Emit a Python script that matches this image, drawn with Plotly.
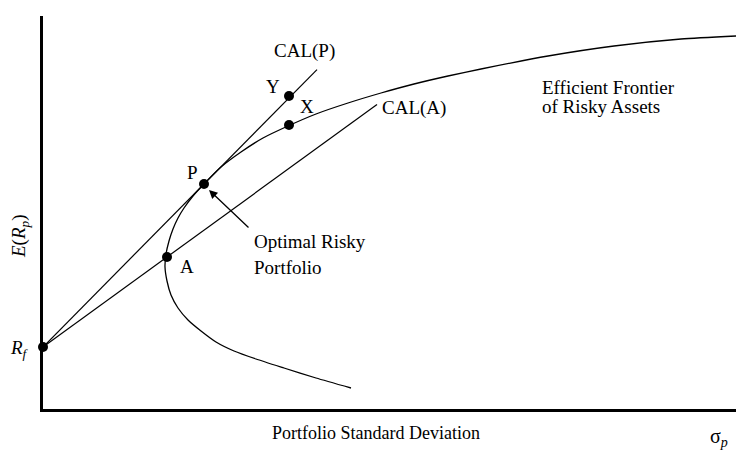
import plotly.graph_objects as go

# Efficient frontier (sigma, expected return)
frontier_sigma = [15.40, 13.65, 12.05, 10.65, 9.55, 8.65, 7.90, 7.25, 6.75, 6.40, 6.20, 6.10, 6.15, 6.30,
                  6.50, 6.75, 7.05, 7.50, 8.05, 8.90, 9.90, 11.00, 12.25, 13.65, 15.25, 16.90, 18.55,
                  20.25, 21.90, 25.25, 28.55, 31.90, 34.65]
frontier_ret = [1.05, 1.55, 2.05, 2.50, 2.90, 3.35, 3.90, 4.45, 5.05, 5.70, 6.40, 7.10, 7.75, 8.40,
                9.00, 9.55, 10.05, 10.65, 11.25, 12.10, 12.85, 13.55, 14.15, 14.75, 15.30, 15.80, 16.25,
                16.65, 17.00, 17.65, 18.15, 18.50, 18.65]

# Points
pt_names = ["Rf", "A", "P", "X", "Y"]
pt_sigma = [0.0, 6.20, 8.05, 12.30, 12.30]
pt_ret = [3.10, 7.60, 11.25, 14.20, 15.65]

# Capital allocation lines (start sigma, end sigma)
cal_p_sigma = [0.0, 13.70]
cal_a_sigma = [0.0, 16.70]

X_MAX, Y_MAX = 34.65, 19.65


def line_through(p0, p1, xs):
    s = (p1[1] - p0[1]) / (p1[0] - p0[0])
    return [p0[1] + s * (x - p0[0]) for x in xs]


rf = (pt_sigma[0], pt_ret[0])
pA = (pt_sigma[1], pt_ret[1])
pP = (pt_sigma[2], pt_ret[2])

FONT = "Liberation Serif"
fig = go.Figure()
fig.add_trace(go.Scatter(x=frontier_sigma, y=frontier_ret, mode="lines",
                         line=dict(color="black", width=1.3, shape="spline", smoothing=0.6),
                         hoverinfo="skip", showlegend=False))
fig.add_trace(go.Scatter(x=cal_p_sigma, y=line_through(rf, pP, cal_p_sigma), mode="lines",
                         line=dict(color="black", width=1.2), showlegend=False))
fig.add_trace(go.Scatter(x=cal_a_sigma, y=line_through(rf, pA, cal_a_sigma), mode="lines",
                         line=dict(color="black", width=1.2), showlegend=False))
fig.add_trace(go.Scatter(x=pt_sigma, y=pt_ret, mode="markers",
                         marker=dict(color="black", size=10), cliponaxis=False,
                         text=pt_names, showlegend=False))

ann = []


def lab(sx, sy, t, xa="center", size=19, angle=0):
    # sx, sy: position in the 750x461 picture; mapped to paper coords of the plot area
    ann.append(dict(x=(sx - 42) / 693, y=(408 - sy) / 393, xref="paper", yref="paper",
                    text=t, showarrow=False, xanchor=xa, yanchor="middle", textangle=angle,
                    font=dict(family=FONT, size=size, color="black")))


lab(303, 50, "CAL(P)")
lab(272, 85, "Y")
lab(306, 105, "X")
lab(413, 107, "CAL(A)")
lab(191, 172, "P")
lab(186, 265, "A")
lab(251, 241, "Optimal Risky", xa="left")
lab(251, 266, "Portfolio", xa="left")
lab(539, 86, "Efficient Frontier", xa="left")
lab(539, 105, "of Risky Assets", xa="left")
lab(7, 348, "<i>R<sub>f</sub></i>", xa="left")
lab(375, 432, "Portfolio Standard Deviation", size=18)
lab(718, 436, "σ<sub><i>p</i></sub>", size=20)
lab(19, 235, "<i>E</i>(<i>R<sub>p</sub></i>)", angle=-90)

ann.append(dict(x=8.3, y=10.95, xref="x", yref="y", ax=10.35, ay=9.0, axref="x", ayref="y",
                text="", showarrow=True, arrowhead=2, arrowsize=1.3, arrowwidth=1.3,
                arrowcolor="black"))

# page is drawn with ~7px body offset; margins compensate so the plot area lands at 42..735 x 15..408
fig.update_layout(
    width=750, height=461, margin=dict(l=35, r=22, t=8, b=60, autoexpand=False),
    paper_bgcolor="white", plot_bgcolor="white",
    xaxis=dict(range=[0, X_MAX], showgrid=False, zeroline=False, showticklabels=False,
               ticks="", showline=True, linecolor="black", linewidth=2.5),
    yaxis=dict(range=[0, Y_MAX], showgrid=False, zeroline=False, showticklabels=False,
               ticks="", showline=True, linecolor="black", linewidth=2.5),
    annotations=ann, font=dict(family=FONT, size=19, color="black"),
)
fig.write_html("out.html")
